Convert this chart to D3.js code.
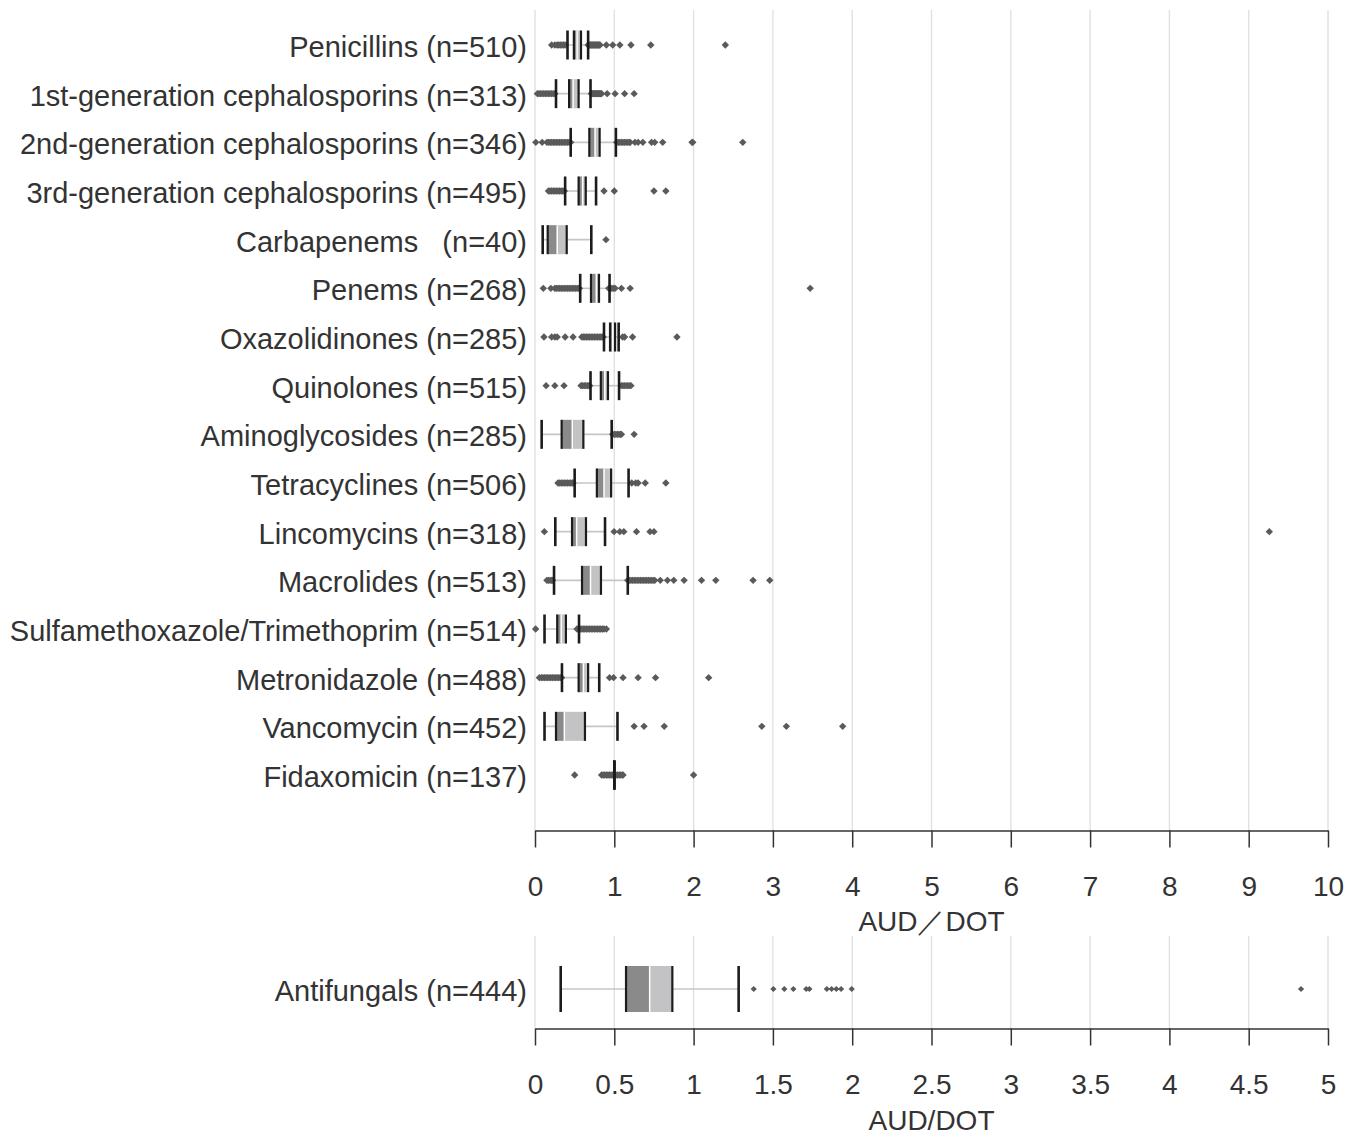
<!DOCTYPE html>
<html>
<head>
<meta charset="utf-8">
<script src="https://cdn.jsdelivr.net/npm/d3@7"></script>
<style>
  html, body { margin: 0; padding: 0; background: #fff; }
  text { font-family: "Liberation Sans", Arial, sans-serif; fill: #333; }
</style>
</head>
<body>
<script>
// Antimicrobial classes (top panel)
const categories = [
  "Penicillins (n=510)",
  "1st-generation cephalosporins (n=313)",
  "2nd-generation cephalosporins (n=346)",
  "3rd-generation cephalosporins (n=495)",
  "Carbapenems   (n=40)",
  "Penems (n=268)",
  "Oxazolidinones (n=285)",
  "Quinolones (n=515)",
  "Aminoglycosides (n=285)",
  "Tetracyclines (n=506)",
  "Lincomycins (n=318)",
  "Macrolides (n=513)",
  "Sulfamethoxazole/Trimethoprim (n=514)",
  "Metronidazole (n=488)",
  "Vancomycin (n=452)",
  "Fidaxomicin (n=137)"
];

// Five-number summaries (AUD/DOT)
const whiskerLow  = [0.41, 0.265, 0.45, 0.38, 0.097, 0.57, 0.87, 0.70, 0.084, 0.50, 0.256, 0.24, 0.12, 0.34, 0.12, 1.00];
const q1          = [0.49, 0.43, 0.685, 0.55, 0.16, 0.706, 0.946, 0.83, 0.336, 0.78, 0.467, 0.593, 0.28, 0.55, 0.265, 1.00];
const median      = [0.53, 0.48, 0.757, 0.60, 0.28, 0.773, 0.98, 0.88, 0.47, 0.87, 0.525, 0.70, 0.33, 0.61, 0.37, 1.00];
const q3          = [0.58, 0.55, 0.815, 0.64, 0.40, 0.807, 1.01, 0.92, 0.61, 0.96, 0.643, 0.832, 0.39, 0.67, 0.63, 1.00];
const whiskerHigh = [0.67, 0.70, 1.02, 0.77, 0.71, 0.94, 1.055, 1.06, 0.967, 1.18, 0.883, 1.17, 0.555, 0.81, 1.04, 1.00];

// Outlying hospitals per class
const outliers = [
  [0.21,0.25,0.28,0.30,0.32,0.34,0.36,0.38,0.67,0.68,0.69,0.70,0.71,0.72,0.73,0.74,0.75,0.76,0.77,0.78,0.79,0.80,0.81,0.82,0.90,0.98,1.07,1.21,1.46,2.40],
  [0.03,0.05,0.07,0.09,0.11,0.13,0.15,0.17,0.19,0.21,0.23,0.25,0.71,0.72,0.73,0.74,0.75,0.76,0.77,0.78,0.79,0.80,0.81,0.82,0.83,0.84,0.91,1.01,1.13,1.25],
  [0.01,0.09,0.15,0.17,0.19,0.21,0.23,0.25,0.27,0.29,0.31,0.33,0.35,0.37,0.39,0.41,0.43,0.45,1.03,1.05,1.07,1.09,1.11,1.13,1.15,1.17,1.19,1.20,1.26,1.30,1.36,1.47,1.51,1.61,1.98,1.99,2.62],
  [0.17,0.19,0.21,0.23,0.25,0.27,0.29,0.31,0.33,0.35,0.37,0.87,1.00,1.50,1.65],
  [0.895],
  [0.105,0.20,0.25,0.27,0.29,0.31,0.33,0.35,0.37,0.39,0.41,0.43,0.45,0.47,0.49,0.51,0.53,0.55,0.56,0.93,0.95,0.97,0.99,1.01,1.09,1.20,3.47],
  [0.113,0.21,0.25,0.28,0.38,0.48,0.59,0.61,0.63,0.65,0.67,0.69,0.71,0.73,0.75,0.77,0.79,0.81,0.83,0.85,0.86,1.105,1.13,1.23,1.79],
  [0.14,0.25,0.366,0.58,0.60,0.62,0.64,0.66,0.68,0.69,1.09,1.11,1.13,1.15,1.17,1.19,1.21],
  [0.98,1.00,1.02,1.04,1.06,1.08,1.09,1.25],
  [0.29,0.31,0.33,0.35,0.37,0.39,0.41,0.43,0.45,0.47,0.48,1.22,1.27,1.30,1.39,1.65],
  [0.118,0.997,1.07,1.12,1.28,1.45,1.50,9.26],
  [0.15,0.17,0.19,0.21,0.22,1.17,1.19,1.21,1.23,1.25,1.27,1.29,1.31,1.33,1.35,1.37,1.39,1.41,1.43,1.45,1.47,1.49,1.51,1.58,1.67,1.75,1.88,2.10,2.28,2.75,2.96],
  [0.008,0.53,0.55,0.57,0.59,0.61,0.63,0.65,0.67,0.69,0.71,0.73,0.75,0.77,0.79,0.81,0.83,0.85,0.87,0.90],
  [0.055,0.08,0.10,0.12,0.14,0.16,0.18,0.20,0.22,0.24,0.26,0.28,0.30,0.32,0.336,0.94,0.99,1.11,1.30,1.52,2.19],
  [1.25,1.375,1.63,2.86,3.17,3.88],
  [0.50,0.84,0.86,0.88,0.90,0.92,0.94,0.96,0.98,1.02,1.04,1.06,1.08,1.10,1.11,2.00]
];

// Antifungals (bottom panel)
const antifungalCategory = ["Antifungals (n=444)"];
const antifungalLow = [0.162];
const antifungalQ1 = [0.574];
const antifungalMedian = [0.723];
const antifungalQ3 = [0.866];
const antifungalHigh = [1.284];
const antifungalOutliers = [[1.379,1.503,1.572,1.629,1.71,1.73,1.84,1.87,1.90,1.93,1.997,4.83]];

// Axis ticks and titles
const topTicks = [0,1,2,3,4,5,6,7,8,9,10];
const bottomTicks = [0,0.5,1,1.5,2,2.5,3,3.5,4,4.5,5];
const topTitle = "AUD／DOT";
const bottomTitle = "AUD/DOT";

const W = 1359, H = 1135;
const svg = d3.select("body").append("svg").attr("width", W).attr("height", H);

const xTop = d3.scaleLinear().domain([0, 10]).range([535, 1328]);
const yTop = d3.scalePoint().domain(categories).range([45, 775]);
const xBot = d3.scaleLinear().domain([0, 5]).range([535, 1328]);
const yBot = d3.scalePoint().domain(antifungalCategory).range([989, 989]);

const COL = {
  grid: "#e1e1e1", axis: "#333", whisker: "#c6c6c6", dark: "#8a8a8a",
  light: "#c3c3c6", edge: "#1c1c1c", dot: "#5a5a5a"
};

function gridlines(x, ticks, y0, y1) {
  svg.append("g").selectAll("line").data(ticks).join("line")
    .attr("x1", d => x(d)).attr("x2", d => x(d))
    .attr("y1", y0).attr("y2", y1)
    .attr("stroke", COL.grid).attr("stroke-width", 1.4);
}

function axis(x, ticks, yAxis, titleText, titleY) {
  const g = svg.append("g").attr("transform", `translate(0,${yAxis})`)
    .call(d3.axisBottom(x).tickValues(ticks).tickSize(17).tickSizeOuter(0).tickFormat(d => d));
  g.select(".domain").attr("stroke", COL.axis).attr("stroke-width", 1.5);
  g.selectAll(".tick line").attr("stroke", COL.axis).attr("stroke-width", 1.5);
  g.selectAll(".tick text").attr("y", 0).attr("dy", null).attr("transform", "translate(0,65)")
    .style("font-size", "28px").attr("fill", "#333");
  svg.append("text").attr("x", (x.range()[0] + x.range()[1]) / 2).attr("y", titleY)
    .attr("text-anchor", "middle").style("font-size", "28px").text(titleText);
}

function boxes(x, y, names, lo, a, m, b, hi, outs, h, r) {
  const rows = names.map((n, i) => ({ n, lo: lo[i], a: a[i], m: m[i], b: b[i], hi: hi[i], outs: outs[i] }));
  const g = svg.append("g");
  // row labels
  g.selectAll("text.lab").data(rows).join("text").attr("class", "lab")
    .attr("x", 527).attr("y", d => y(d.n) + 12)
    .attr("text-anchor", "end").style("font-size", "29px").style("white-space", "pre")
    .text(d => d.n);
  const row = g.selectAll("g.row").data(rows).join("g").attr("class", "row")
    .attr("transform", d => `translate(0,${y(d.n)})`);
  // whisker line
  row.append("line").attr("x1", d => x(d.lo)).attr("x2", d => x(d.hi))
    .attr("stroke", COL.whisker).attr("stroke-width", 1.6);
  // outliers
  const sym = d3.symbol().type(d3.symbolSquare).size(2 * r * r);
  row.each(function(d) {
    d3.select(this).selectAll("path.o").data(d.outs).join("path").attr("class", "o")
      .attr("d", sym).attr("fill", COL.dot)
      .attr("transform", v => `translate(${x(v)},0) rotate(45)`);
  });
  // box halves
  row.append("rect").attr("x", d => x(d.a)).attr("width", d => x(d.m) - x(d.a))
    .attr("y", -h / 2).attr("height", h).attr("fill", COL.dark);
  row.append("rect").attr("x", d => x(d.m)).attr("width", d => x(d.b) - x(d.m))
    .attr("y", -h / 2).attr("height", h).attr("fill", COL.light);
  // median
  row.filter(d => d.b > d.a).append("line").attr("x1", d => x(d.m)).attr("x2", d => x(d.m))
    .attr("y1", -h / 2).attr("y2", h / 2).attr("stroke", "#fff").attr("stroke-width", 1.5);
  // box edges and whisker caps
  ["a", "b"].forEach(k => {
    row.append("line").attr("x1", d => x(d[k])).attr("x2", d => x(d[k]))
      .attr("y1", -h / 2).attr("y2", h / 2).attr("stroke", COL.edge).attr("stroke-width", 2.2);
  });
  ["lo", "hi"].forEach(k => {
    row.append("line").attr("x1", d => x(d[k])).attr("x2", d => x(d[k]))
      .attr("y1", -h / 2).attr("y2", h / 2).attr("stroke", COL.edge).attr("stroke-width", 2.6);
  });
}

// top panel
gridlines(xTop, topTicks, 10, 830.5);
boxes(xTop, yTop, categories, whiskerLow, q1, median, q3, whiskerHigh, outliers, 29, 3.7);
axis(xTop, topTicks, 830.5, topTitle, 931);

// bottom panel
gridlines(xBot, bottomTicks, 936, 1028.5);
boxes(xBot, yBot, antifungalCategory, antifungalLow, antifungalQ1, antifungalMedian, antifungalQ3, antifungalHigh, antifungalOutliers, 46, 3.1);
axis(xBot, bottomTicks, 1028.5, bottomTitle, 1130);
</script>
</body>
</html>
